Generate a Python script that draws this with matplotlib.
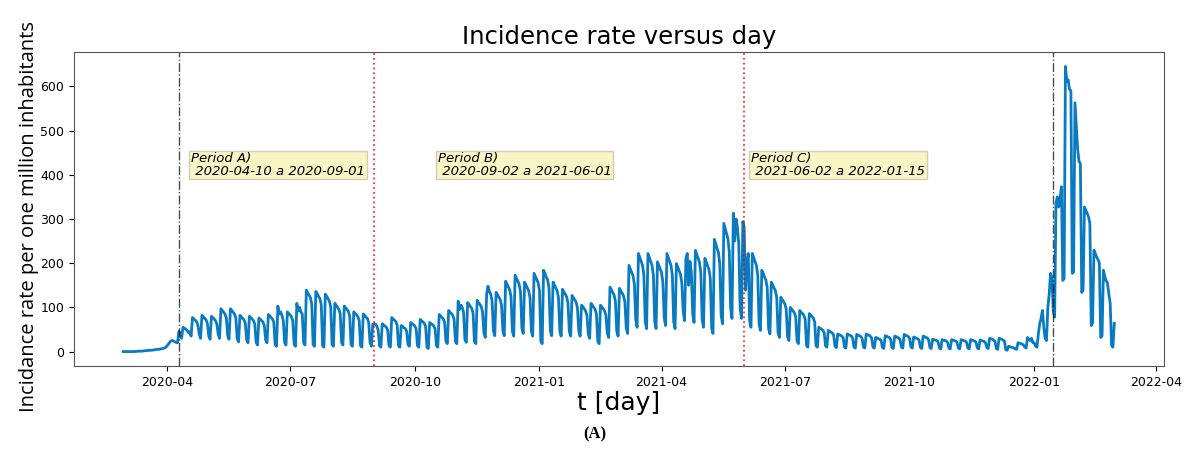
import matplotlib
matplotlib.use("Agg")
import matplotlib.pyplot as plt
import matplotlib.dates as mdates
import numpy as np
import pandas as pd

# daily incidence per one million inhabitants
start_day = "2020-02-29"

values_pre = [
    0, 0, 0, 0, 0, 0, 0,
    0, 0, 0.5, 0.5, 1, 1, 1,
    1, 1.5, 2, 2, 2.5, 3, 3,
    3, 3.5, 4, 4.5, 5, 5, 6,
    6, 7, 8, 9, 12, 16, 20,
    24, 25, 24, 22, 21, 20, 46,
]

values_a = [
    40, 30, 55, 53, 51, 48, 43,
    45, 35, 77, 74, 71, 68, 60,
    39, 30, 82, 79, 75, 72, 64,
    36, 28, 80, 77, 74, 70, 62,
    39, 30, 97, 93, 89, 85, 76,
    36, 28, 97, 93, 89, 85, 76,
    29, 22, 82, 79, 75, 72, 64,
    26, 20, 80, 77, 74, 70, 62,
    20, 15, 76, 73, 70, 67, 59,
    26, 20, 84, 81, 77, 74, 66,
    16, 12, 103, 85, 90, 82, 70,
    20, 15, 90, 86, 83, 79, 70,
    16, 12, 109, 92, 100, 90, 85,
    20, 15, 139, 133, 128, 122, 108,
    16, 12, 136, 131, 125, 120, 106,
    13, 10, 130, 125, 120, 114, 101,
    16, 12, 109, 105, 100, 96, 85,
    20, 15, 103, 99, 95, 91, 80,
    16, 12, 90, 86, 83, 79, 70,
    13, 10, 85, 82, 78, 75, 66,
    20, 12, 62, 63, 62, 58, 48,
]

values_b = [
    13, 10, 63, 60, 58, 55, 49,
    13, 10, 77, 74, 71, 68, 60,
    13, 10, 59, 57, 54, 52, 46,
    16, 12, 66, 63, 61, 58, 51,
    13, 10, 73, 70, 67, 64, 57,
    9, 7, 66, 63, 61, 58, 51,
    13, 10, 84, 81, 77, 74, 66,
    23, 18, 93, 89, 86, 82, 73,
    23, 18, 114, 95, 105, 100, 89,
    27, 21, 111, 107, 102, 98, 87,
    23, 18, 116, 111, 107, 102, 90,
    42, 32, 130, 148, 136, 130, 115,
    47, 36, 134, 129, 123, 118, 105,
    47, 36, 159, 153, 146, 140, 124,
    46, 35, 173, 166, 159, 152, 135,
    53, 41, 157, 151, 144, 138, 122,
    46, 35, 177, 170, 163, 156, 138,
    23, 18, 184, 177, 169, 162, 144,
    47, 36, 157, 151, 144, 138, 122,
    46, 35, 141, 135, 130, 124, 110,
    46, 35, 127, 122, 117, 112, 99,
    46, 35, 105, 101, 97, 92, 82,
    39, 30, 109, 105, 100, 96, 85,
    23, 18, 105, 101, 97, 92, 82,
    42, 32, 146, 140, 134, 128, 114,
    46, 35, 143, 137, 132, 126, 112,
    53, 41, 195, 187, 179, 172, 152,
    72, 55, 222, 213, 204, 195, 173,
    68, 52, 222, 213, 204, 195, 173,
    68, 52, 203, 195, 187, 179, 158,
    77, 59, 222, 213, 204, 195, 173,
    68, 52, 199, 191, 183, 175, 155,
    91, 70, 211, 222, 150, 204, 180,
    86, 66, 229, 220, 211, 202, 179,
    72, 55, 211, 203, 194, 186, 165,
    53, 41, 254, 244, 234, 224, 198,
    82, 63, 290, 278, 267, 255, 226,
    98, 75, 313, 250, 300, 280, 244,
    98, 75, 294, 280, 139, 200, 222,
]

values_c = [
    70, 55, 222, 213, 204, 195, 173,
    62, 48, 184, 177, 169, 162, 144,
    52, 40, 157, 151, 144, 138, 122,
    42, 32, 123, 118, 113, 108, 96,
    33, 25, 100, 96, 92, 88, 78,
    23, 18, 93, 89, 86, 82, 73,
    13, 10, 86, 83, 79, 76, 67,
    13, 10, 55, 53, 51, 48, 43,
    13, 10, 48, 46, 44, 42, 37,
    12, 9, 40, 38, 37, 35, 31,
    10, 8, 40, 38, 37, 35, 31,
    10, 8, 39, 37, 36, 34, 30,
    10, 8, 40, 38, 37, 35, 31,
    10, 8, 32, 31, 29, 28, 25,
    9, 7, 36, 35, 33, 32, 28,
    9, 7, 35, 34, 32, 31, 27,
    10, 8, 39, 37, 36, 34, 30,
    10, 8, 33, 32, 30, 29, 26,
    9, 7, 35, 34, 32, 31, 27,
    9, 7, 28, 27, 26, 25, 22,
    8, 6, 27, 26, 25, 24, 21,
    8, 6, 27, 26, 25, 24, 21,
    8, 6, 27, 26, 25, 24, 21,
    8, 6, 27, 26, 25, 24, 21,
    8, 6, 26, 25, 24, 23, 20,
    9, 7, 30, 29, 28, 26, 23,
    7, 5, 30, 29, 28, 26, 23,
    4, 3, 12, 11, 10, 9, 8,
    6, 5, 20, 19, 18, 17, 15,
    10, 8, 32, 28, 25, 30, 20,
    20, 12, 10, 40, 63, 75, 93,
    55, 30, 25, 100, 130, 177, 165,
    90, 78, 336, 350, 327, 345, 373,
    161, 165, 645, 611, 615, 593, 590,
    177, 180, 563, 510, 457, 430, 425,
    134, 140, 327, 320, 313, 305, 290,
    59, 65, 229, 222, 214, 208, 200,
    32, 36, 184, 170, 160, 155, 130,
    109, 14, 10, 64,
]

period_labels = ["Period A)\n 2020-04-10 a 2020-09-01",
                 "Period B)\n 2020-09-02 a 2021-06-01",
                 "Period C)\n 2021-06-02 a 2022-01-15"]
label_days = ["2020-04-19", "2020-10-18", "2021-06-06"]
label_y = 400
black_lines = ["2020-04-10", "2022-01-15"]
red_lines = ["2020-09-01", "2021-06-01"]

rate = np.array(values_pre + values_a + values_b + values_c, dtype=float)
days = pd.date_range(start_day, periods=len(rate), freq="D")

fig = plt.figure(figsize=(11.9, 4.5), dpi=100)
ax = fig.add_axes([0.062, 0.187, 0.916, 0.697])

ax.plot(days, rate, color="#0a7bc0", linewidth=2)

for d in black_lines:
    ax.axvline(pd.Timestamp(d), color="black", linestyle="-.", linewidth=1, alpha=0.7)
for d in red_lines:
    ax.axvline(pd.Timestamp(d), color="red", linestyle=":", linewidth=1.3, alpha=0.8)

for lab, d in zip(period_labels, label_days):
    ax.text(pd.Timestamp(d), label_y, lab, fontsize=9.5, style="italic",
            linespacing=0.95,
            bbox=dict(facecolor="#f9f5c4", edgecolor="#cfcdb8", pad=1.2))

ax.xaxis.set_major_locator(mdates.MonthLocator(bymonth=[1, 4, 7, 10]))
ax.xaxis.set_major_formatter(mdates.DateFormatter("%Y-%m"))
ax.tick_params(labelsize=9)
for s in ax.spines.values():
    s.set_color("#555555")

ax.set_title("Incidence rate versus day", fontsize=17.5, family="DejaVu Sans")
ax.set_xlabel("t [day]", fontsize=18, labelpad=2)

fig.text(0.024, 0.52, "Incidance rate per one million inhabitants",
         rotation=90, ha="center", va="center", fontsize=14.5,
         family=["Open Sans", "DejaVu Sans"])

fig.text(0.5, 0.035, "(A)", ha="center", va="center", fontsize=12,
         fontweight="bold", family=["Liberation Serif", "DejaVu Serif"])

fig.savefig("out.png", dpi=100)
